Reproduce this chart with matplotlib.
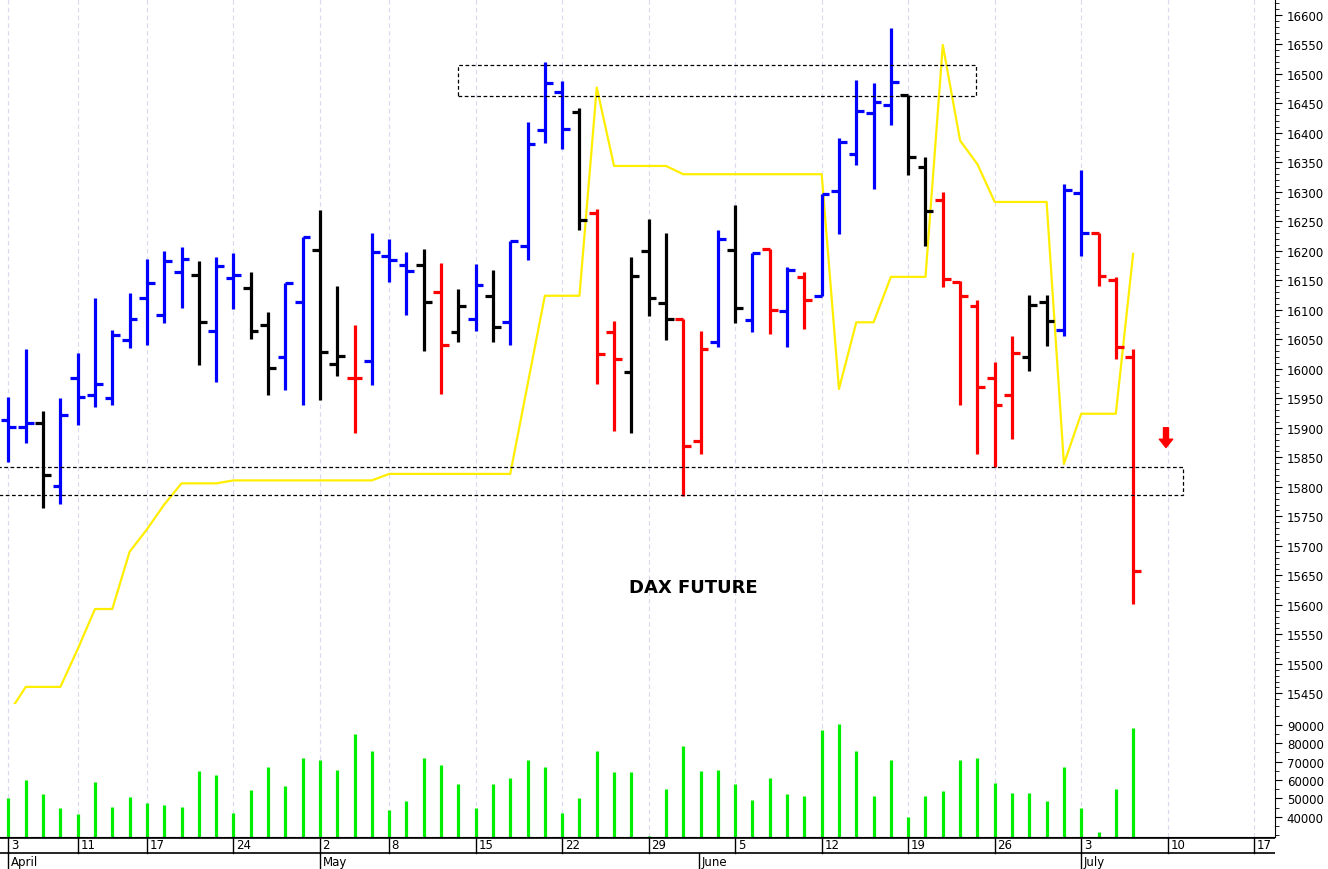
import numpy as np
import matplotlib.pyplot as plt
from matplotlib.ticker import MultipleLocator

# daily OHLC, trading-day index 0 = 3 April
opens = [15914, 15901, 15908, 15802, 15985, 15955, 15951, 16049, 16121, 16091,
         16164, 16159, 16064, 16154, 16137, 16074, 16021, 16113, 16201, 16008,
         15984, 16013, 16192, 16176, 16176, 16131, 16062, 16084, 16123, 16079,
         16209, 16405, 16470, 16436, 16265, 16062, 15994, 16200, 16112, 16085,
         15878, 16045, 16202, 16083, 16203, 16098, 16155, 16124, 16301, 16365,
         16433, 16447, 16465, 16343, 16286, 16148, 16107, 15984, 15956, 16020,
         16114, 16066, 16299, 16230, 16151, 16020]
highs = [15953, 16033, 15928, 15950, 16027, 16120, 16066, 16128, 16187, 16200,
         16207, 16183, 16189, 16197, 16165, 16097, 16146, 16224, 16270, 16140,
         16075, 16230, 16220, 16199, 16204, 16180, 16135, 16177, 16168, 16217,
         16418, 16521, 16488, 16442, 16271, 16082, 16189, 16254, 16231, 16085,
         16065, 16236, 16278, 16196, 16203, 16172, 16164, 16296, 16392, 16489,
         16484, 16577, 16465, 16360, 16300, 16149, 16116, 16011, 16055, 16126,
         16126, 16314, 16337, 16230, 16155, 16033]
lows = [15843, 15874, 15764, 15771, 15905, 15935, 15938, 16035, 16041, 16077,
        16104, 16007, 15977, 16101, 16051, 15955, 15964, 15938, 15948, 15988,
        15891, 15973, 16148, 16091, 16030, 15957, 16046, 16064, 16046, 16041,
        16184, 16383, 16372, 16235, 15974, 15894, 15891, 16090, 16049, 15785,
        15856, 16037, 16078, 16062, 16059, 16037, 16068, 16124, 16228, 16345,
        16305, 16413, 16329, 16208, 16139, 15939, 15856, 15833, 15881, 15997,
        16039, 16055, 16191, 16141, 16017, 15602]
closes = [15901, 15908, 15820, 15922, 15952, 15974, 16057, 16085, 16146, 16183,
          16186, 16079, 16174, 16159, 16064, 16002, 16146, 16224, 16028, 16022,
          15984, 16199, 16184, 16166, 16113, 16040, 16106, 16143, 16071, 16217,
          16382, 16485, 16407, 16253, 16026, 16016, 16158, 16120, 16085, 15869,
          16034, 16220, 16103, 16196, 16100, 16168, 16116, 16296, 16385, 16437,
          16452, 16486, 16360, 16268, 16152, 16123, 15969, 15939, 16027, 16109,
          16081, 16303, 16231, 16157, 16037, 15657]
bar_colors = "BBKBBBBBBBBKBBKKBBKKRBBBKRKBKBBBBKRRKKKRRBKBRBRBBBBBKKRRRRRKKBBRRR"

volume = [50150, 59930, 52320, 44710, 41450, 58840, 45250, 50870, 47250, 46340,
          45070, 64640, 62830, 41990, 54500, 67180, 56670, 71710, 70800, 65550,
          84940, 75700, 43620, 48520, 71710, 68270, 57760, 44710, 57760, 61020,
          70800, 67000, 41990, 49970, 75520, 64100, 64100, 29300, 55040, 78600,
          64640, 65370, 57580, 48880, 61020, 52320, 51230, 87110, 90370, 75520,
          51230, 70800, 39820, 51230, 53950, 70800, 71710, 58120, 52870, 52870,
          48340, 67000, 44710, 31850, 55040, 88200]

indicator = [15416, 15461, 15461, 15461, 15525, 15593, 15593, 15690, 15728, 15770,
             15806, 15806, 15806, 15811, 15811, 15811, 15811, 15811, 15811, 15811,
             15811, 15811, 15822, 15822, 15822, 15822, 15822, 15822, 15822, 15822,
             15973, 16124, 16124, 16124, 16477, 16344, 16344, 16344, 16344, 16330,
             16330, 16330, 16330, 16330, 16330, 16330, 16330, 16330, 15966, 16079,
             16079, 16156, 16156, 16156, 16549, 16387, 16347, 16283, 16283, 16283,
             16283, 15839, 15924, 15924, 15924, 16195]

day_ticks = [0, 4, 8, 13, 18, 22, 27, 32, 37, 42, 47, 52, 57, 62, 67, 72]
day_labels = ['3', '11', '17', '24', '2', '8', '15', '22', '29', '5', '12', '19', '26', '3', '10', '17']
month_pos = [0, 18, 39.9, 62]
month_labels = ['April', 'May', 'June', 'July']

cmap = {'B': '#0000ff', 'R': '#ff0000', 'K': '#000000'}
x = np.arange(len(opens))
xmin, xmax = -0.49, 73.2

fig = plt.figure(figsize=(13.28, 8.7), dpi=100)
W = 1275 / 1328
ax = fig.add_axes([0, 1 - 705 / 870, W, 705 / 870])
axv = fig.add_axes([0, 32 / 870, W, 133 / 870])
axd = fig.add_axes([0, 0, W, 32 / 870])

for a in (ax, axv):
    a.set_xlim(xmin, xmax)
    for t in day_ticks:
        a.axvline(t, color='#d8d8ee', lw=0.8, ls=(0, (4, 3)), zorder=0)
    a.yaxis.tick_right()
    a.set_xticks([])
    for s in ('left', 'top', 'bottom'):
        a.spines[s].set_visible(False)
    a.tick_params(axis='y', labelsize=8.5, direction='out', length=5)
    a.tick_params(axis='y', which='minor', length=3)

# OHLC bars
cols = [cmap[c] for c in bar_colors]
ax.vlines(x, lows, highs, colors=cols, lw=2.3, zorder=3)
ax.hlines(opens, x - 0.45, x, colors=cols, lw=2.3, zorder=3)
ax.hlines(closes, x, x + 0.45, colors=cols, lw=2.3, zorder=3)

ax.plot(x, indicator, color='#ffee00', lw=1.6, zorder=2)

# support / resistance zones
ax.add_patch(plt.Rectangle((26.0, 16463), 55.9 - 26.0, 16515 - 16463, fill=False,
                           ls=(0, (3, 2)), lw=0.9, ec='black', zorder=4))
ax.add_patch(plt.Rectangle((-1, 15786), 67.9 + 1, 15834 - 15786, fill=False,
                           ls=(0, (3, 2)), lw=0.9, ec='black', zorder=4))

ax.annotate('', xy=(66.9, 15862), xytext=(66.9, 15905),
            arrowprops=dict(arrowstyle='simple,head_width=0.8,head_length=0.5,tail_width=0.3',
                            color='#ff0000', mutation_scale=12))
ax.text(39.6, 15630, 'DAX FUTURE', fontsize=13, fontweight='bold', ha='center', va='center')

ax.set_ylim(15432, 16627)
ax.yaxis.set_minor_locator(MultipleLocator(10))
ax.set_yticks(np.arange(15450, 16601, 50))

axv.vlines(x, 0, volume, colors='#00ee00', lw=2.3)
axv.set_ylim(28970, 101250)
axv.set_yticks(np.arange(40000, 90001, 10000))
axv.yaxis.set_minor_locator(MultipleLocator(5000))
axv.spines['bottom'].set_visible(True)

# date strip
axd.set_xlim(xmin, xmax)
axd.set_ylim(0, 32)
axd.axis('off')
axd.axhline(16, color='black', lw=1.2)
axd.axhline(31.5, color='black', lw=1.2)
for t, lab in zip(day_ticks, day_labels):
    axd.plot([t, t], [16, 32], color='black', lw=1)
    axd.text(t + 0.15, 24, lab, fontsize=8.5, va='center', ha='left')
for t, lab in zip(month_pos, month_labels):
    axd.plot([t, t], [0, 16], color='black', lw=1)
    axd.text(t + 0.15, 7, lab, fontsize=8.5, va='center', ha='left')

fig.savefig('out.png', dpi=100)
